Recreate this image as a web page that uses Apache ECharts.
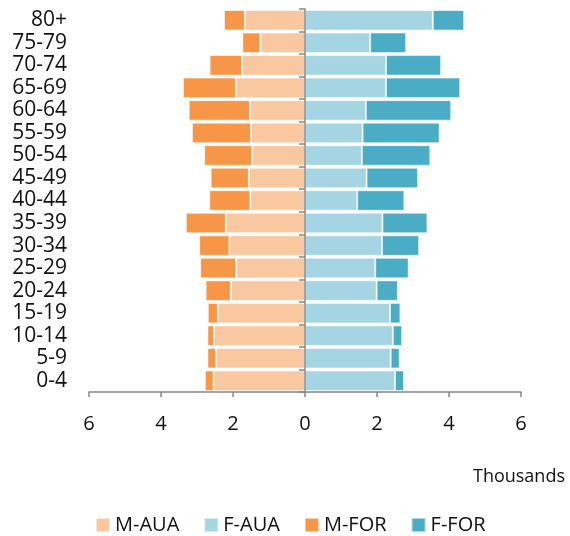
<!DOCTYPE html>
<html>
<head>
<meta charset="utf-8">
<style>
  html, body { margin: 0; padding: 0; background: #fff; }
  #main { width: 570px; height: 536px; }
</style>
<script src="https://cdn.jsdelivr.net/npm/echarts@6/dist/echarts.min.js"></script>
</head>
<body>
<div id="main"></div>
<script>
// age groups, bottom to top
const ageGroups = ['0-4', '5-9', '10-14', '15-19', '20-24', '25-29', '30-34', '35-39', '40-44',
  '45-49', '50-54', '55-59', '60-64', '65-69', '70-74', '75-79', '80+']
// thousands
const maleAua = [2.54, 2.47, 2.53, 2.42, 2.06, 1.91, 2.10, 2.20, 1.52, 1.56, 1.47, 1.50, 1.53, 1.92, 1.75, 1.24, 1.67]
const maleFor = [0.24, 0.24, 0.18, 0.28, 0.70, 1.00, 0.84, 1.11, 1.14, 1.06, 1.33, 1.64, 1.70, 1.47, 0.90, 0.50, 0.58]
const femaleAua = [2.50, 2.38, 2.44, 2.36, 1.99, 1.95, 2.14, 2.15, 1.45, 1.71, 1.58, 1.60, 1.69, 2.25, 2.25, 1.81, 3.55]
const femaleFor = [0.25, 0.25, 0.26, 0.29, 0.59, 0.93, 1.03, 1.25, 1.31, 1.43, 1.90, 2.14, 2.37, 2.06, 1.53, 1.00, 0.87]
const xTicks = { min: -6, max: 6, interval: 2 }

const font = 'Open Sans'
const neg = arr => arr.map(v => -v)

const myChart = echarts.init(document.getElementById('main'))

function barSeries(name, data, color) {
  return {
    name: name,
    type: 'bar',
    stack: 'pyramid',
    barCategoryGap: '9%',
    itemStyle: {
      color: color,
      borderColor: 'rgba(255,255,255,0.55)',
      borderWidth: 1
    },
    data: data
  }
}

const option = {
  animation: false,
  textStyle: { fontFamily: font },
  title: {
    text: 'Thousands',
    right: 0,
    top: 463,
    textStyle: { fontFamily: font, fontSize: 18, fontWeight: 'normal', color: '#111' }
  },
  legend: {
    data: ['M-AUA', 'F-AUA', 'M-FOR', 'F-FOR'],
    left: 90,
    top: 510,
    icon: 'rect',
    itemWidth: 14,
    itemHeight: 14,
    itemGap: 24,
    textStyle: { fontFamily: font, fontSize: 20, color: '#111' }
  },
  grid: {
    left: 89,
    right: 49,
    top: 9,
    bottom: 144
  },
  xAxis: {
    type: 'value',
    min: xTicks.min,
    max: xTicks.max,
    interval: xTicks.interval,
    splitLine: { show: false },
    axisLine: { show: true, onZero: false, lineStyle: { color: '#888', width: 1.5 } },
    axisTick: { show: true, length: 5, lineStyle: { color: '#888', width: 1.5 } },
    axisLabel: {
      margin: 22,
      fontFamily: font,
      fontSize: 20,
      color: '#111',
      formatter: v => Math.abs(v)
    }
  },
  yAxis: [
    {
      // labels on the far left
      type: 'category',
      data: ageGroups,
      axisLine: { show: false, onZero: false },
      axisTick: { show: false },
      axisLabel: { interval: 0, margin: 22, fontFamily: font, fontSize: 21, color: '#111' }
    },
    {
      // centre line at zero
      type: 'category',
      data: ageGroups,
      position: 'left',
      z: 10,
      axisLine: { show: true, onZero: true, lineStyle: { color: '#888', width: 1.5 } },
      axisTick: { show: true, interval: 0, length: 6, lineStyle: { color: '#888', width: 1.5 } },
      axisLabel: { show: false }
    }
  ],
  series: [
    barSeries('M-AUA', neg(maleAua), '#FAC8A0'),
    barSeries('F-AUA', femaleAua, '#A5D5E2'),
    barSeries('M-FOR', neg(maleFor), '#F79646'),
    barSeries('F-FOR', femaleFor, '#4BACC6')
  ]
}

myChart.setOption(option)
</script>
</body>
</html>
